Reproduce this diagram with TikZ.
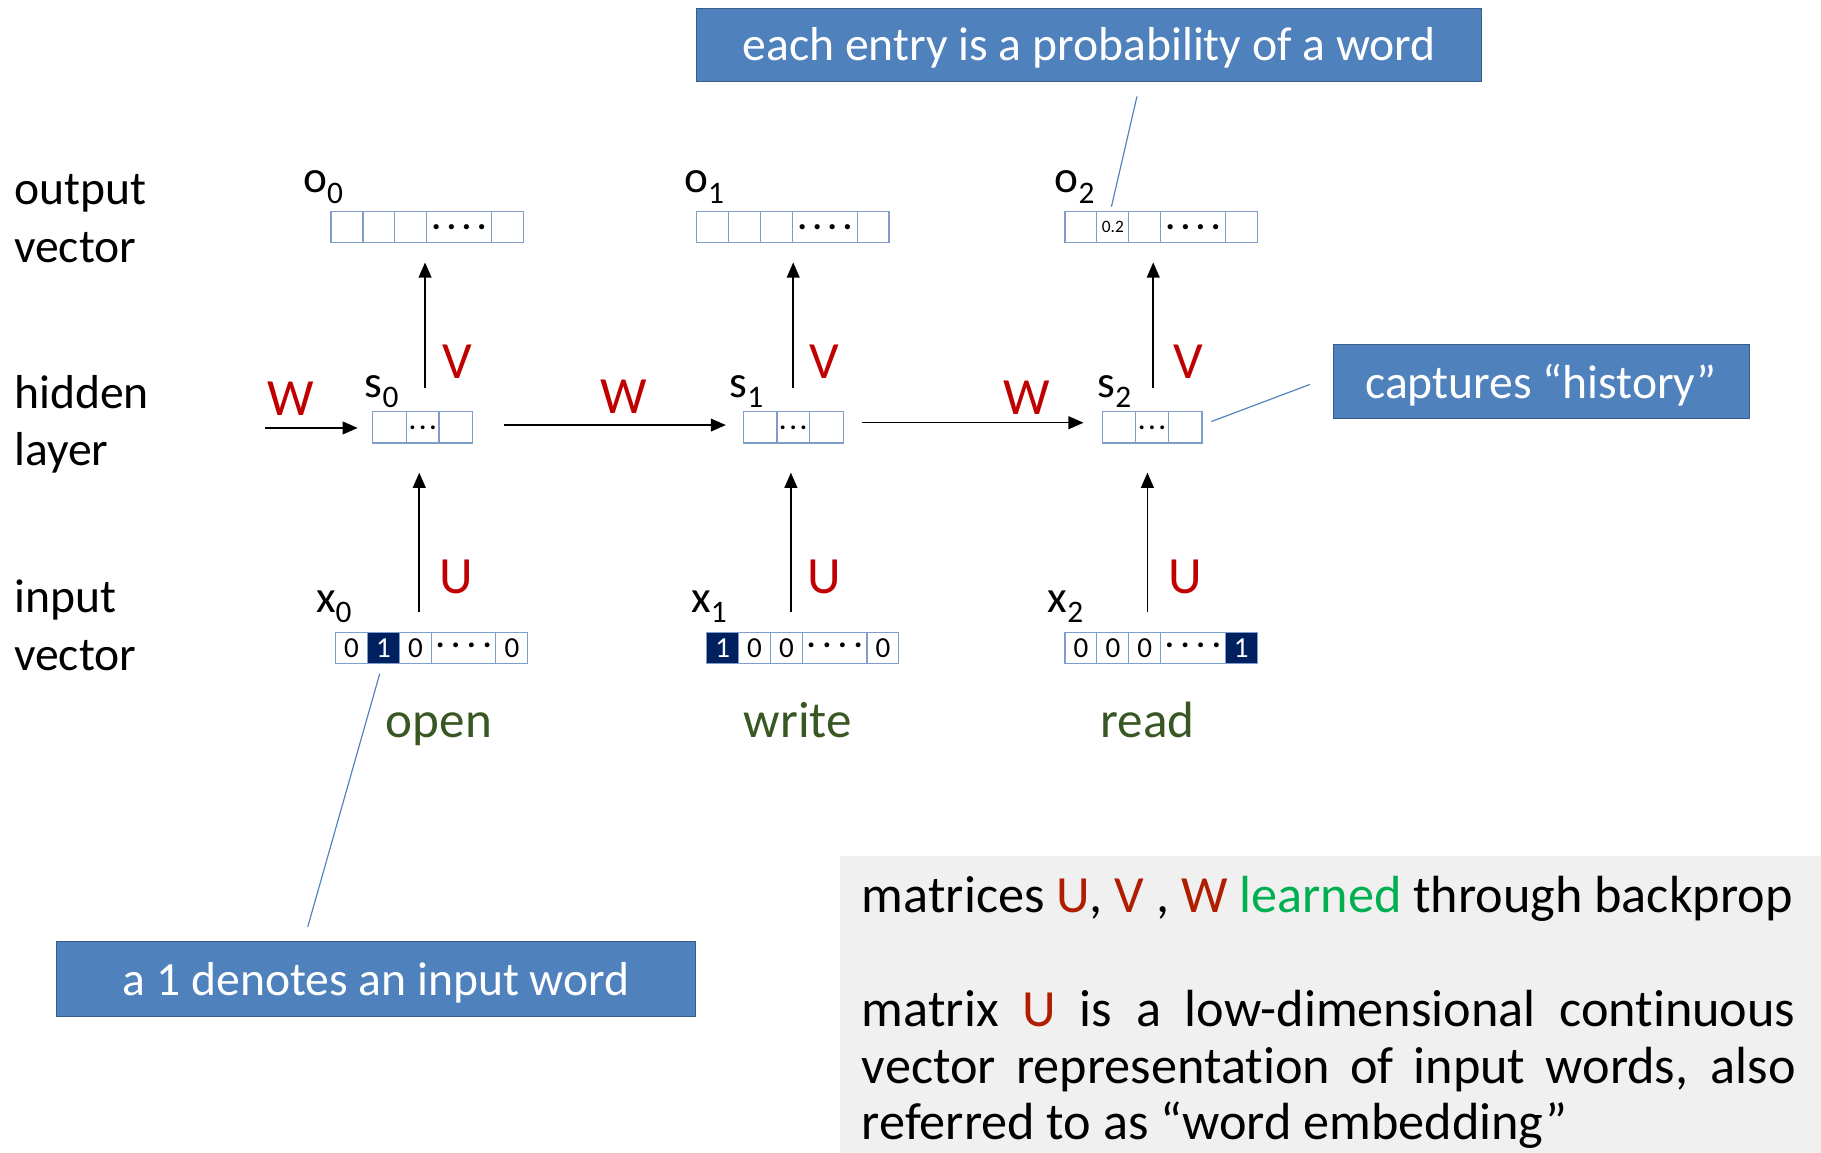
\documentclass[tikz,border=0pt]{standalone}
\usepackage{fontspec}
\setmainfont{Carlito}[Ligatures=NoCommon]
\usetikzlibrary{arrows.meta}
\definecolor{boxblue}{RGB}{79,129,189}
\definecolor{boxedge}{RGB}{56,93,138}
\definecolor{cellc}{RGB}{126,156,204}
\definecolor{navy}{RGB}{0,32,96}
\definecolor{wred}{RGB}{192,0,0}
\definecolor{tred}{RGB}{175,30,0}
\definecolor{wgreen}{RGB}{56,87,35}
\definecolor{lgreen}{RGB}{0,176,80}
\definecolor{graybg}{RGB}{240,240,240}
\newcommand\fs[1]{\fontsize{#1}{#1}\selectfont}
\newcommand\dotrow{{\fs{30}\bfseries\raisebox{-2pt}{.\hspace{5pt}.\hspace{5pt}.\hspace{5pt}.}}}
\newcommand\middots{{\fs{28}\bfseries\raisebox{5pt}{.\hspace{6pt}.\hspace{6pt}.\hspace{6pt}.}}}
\newcommand\hdots{{\fs{22}\bfseries .\hspace{3pt}.\hspace{3pt}.}}
\newcommand\lowidx[2]{#1\raisebox{-9pt}{\fs{27}#2}}
\begin{document}
\begin{tikzpicture}[x=1pt,y=-1pt,
  cell/.style={draw=cellc, line width=1pt, minimum height=27pt, inner sep=0pt, outer sep=0pt, anchor=west},
  narrow/.style={minimum width=27.5pt},
  wide/.style={minimum width=55.5pt},
  one/.style={fill=navy, text=white},
  digit/.style={font=\fs{25}},
  arr/.style={-{Triangle[length=13pt,width=11pt]}, line width=1.3pt},
  redl/.style={text=wred, font=\fs{45}, anchor=base, inner sep=0pt},
  word/.style={text=wgreen, font=\fs{44}, anchor=base, inner sep=0pt},
  side/.style={font=\fs{41}, anchor=base west, inner sep=0pt},
  vlab/.style={font=\fs{39}, anchor=base west, inner sep=0pt},
  callout/.style={fill=boxblue, draw=boxedge, line width=0.8pt, inner sep=0pt},
  callouttext/.style={text=white, font=\fs{41}, inner sep=0pt},
  lead/.style={draw=boxblue, line width=1pt},
  notetext/.style={font=\fs{45}, anchor=base west, inner sep=0pt},
]
\useasboundingbox (0,0) rectangle (1568,992);

% note box
\node[fill=graybg, inner sep=0pt, minimum width=900pt, minimum height=300pt, anchor=north west] (note) at (723,737) {};
\node[notetext] (n1) at (742,786) {matrices \textcolor{tred}{U}, \textcolor{tred}{V} , \textcolor{tred}{W} \textcolor{lgreen}{learned} through backprop};
\node[notetext] (n2) at (742,884) {\makebox[804pt][s]{matrix \textcolor{tred}{U} is a low-dimensional continuous}};
\node[notetext] (n3) at (742,932.6) {\makebox[804pt][s]{vector representation of input words, also}};
\node[notetext] (n4) at (742,981.6) {referred to as “word embedding”};

% side labels
\node[side] (l1) at (12,176) {output};
\node[side] (l2) at (12,226) {vector};
\node[side] (l3) at (12,352) {hidden};
\node[side] (l4) at (12,401) {layer};
\node[side] (l5) at (12,527) {input};
\node[side] (l6) at (12,577) {vector};

% output vectors
\foreach \n/\x in {o0/285, o1/600, o2/917} {
  \node[cell,narrow] (\n a) at (\x,195.5) {};
  \node[cell,narrow] (\n b) at (\n a.east) {};
  \node[cell,narrow] (\n c) at (\n b.east) {};
  \node[cell,wide] (\n d) at (\n c.east) {\dotrow};
  \node[cell,narrow] (\n e) at (\n d.east) {};
}
\node[font=\fs{15}, inner sep=0pt] (p02) at ([yshift=0pt]o2b.center) {0.2};

% hidden vectors
\foreach \n/\x in {s0/321, s1/640, s2/949} {
  \node[cell,minimum width=29pt] (\n a) at (\x,368) {};
  \node[cell,minimum width=28pt] (\n b) at (\n a.east) {\hdots};
  \node[cell,minimum width=29pt] (\n c) at (\n b.east) {};
}

% input vectors
\node[cell,narrow,digit] (x0a) at (289,558) {0};
\node[cell,narrow,digit,one] (x0b) at (x0a.east) {1};
\node[cell,narrow,digit] (x0c) at (x0b.east) {0};
\node[cell,wide] (x0d) at (x0c.east) {\middots};
\node[cell,narrow,digit] (x0e) at (x0d.east) {0};

\node[cell,narrow,digit,one] (x1a) at (608.5,558) {1};
\node[cell,narrow,digit] (x1b) at (x1a.east) {0};
\node[cell,narrow,digit] (x1c) at (x1b.east) {0};
\node[cell,wide] (x1d) at (x1c.east) {\middots};
\node[cell,narrow,digit] (x1e) at (x1d.east) {0};

\node[cell,narrow,digit] (x2a) at (917,558) {0};
\node[cell,narrow,digit] (x2b) at (x2a.east) {0};
\node[cell,narrow,digit] (x2c) at (x2b.east) {0};
\node[cell,wide] (x2d) at (x2c.east) {\middots};
\node[cell,narrow,digit,one] (x2e) at (x2d.east) {1};

% vector labels
\node[vlab] (lo0) at (261,166) {\lowidx{o}{0}};
\node[vlab] (lo1) at (589,166) {\lowidx{o}{1}};
\node[vlab] (lo2) at (908,166) {\lowidx{o}{2}};
\node[vlab] (ls0) at (314,342) {\lowidx{s}{0}};
\node[vlab] (ls1) at (628,342) {\lowidx{s}{1}};
\node[vlab] (ls2) at (945,342) {\lowidx{s}{2}};
\node[vlab] (lx0) at (272,527) {\lowidx{x}{0}};
\node[vlab] (lx1) at (595,527) {\lowidx{x}{1}};
\node[vlab] (lx2) at (902,527) {\lowidx{x}{2}};

% arrows
\foreach \i/\ux/\vx in {0/361/366, 1/681/683, 2/988/993} {
  \coordinate (ua\i) at (\ux,527);
  \coordinate (ub\i) at (\ux,407);
  \coordinate (va\i) at (\vx,334);
  \coordinate (vb\i) at (\vx,226);
  \draw[arr] (ua\i) -- (ub\i);
  \draw[arr] (va\i) -- (vb\i);
}
\coordinate (wa0) at (228,368.5);
\coordinate (wb0) at (308,368.5);
\coordinate (wa1) at (434,366);
\coordinate (wb1) at (625,366);
\coordinate (wa2) at (742,364);
\coordinate (wb2) at (933,364);
\draw[arr] (wa0) -- (wb0);
\draw[arr] (wa1) -- (wb1);
\draw[arr] (wa2) -- (wb2);

% weight labels
\node[redl] (U0) at (393,511) {U};
\node[redl] (U1) at (710,511) {U};
\node[redl] (U2) at (1021,511) {U};
\node[redl] (V0) at (394,326) {V};
\node[redl] (V1) at (710,326) {V};
\node[redl] (V2) at (1023,326) {V};
\node[redl] (W0) at (250,357.5) {W};
\node[redl] (W1) at (537,356) {W};
\node[redl] (W2) at (884,357) {W};

% words
\node[word] (w0) at (378,635) {open};
\node[word] (w1) at (687,635) {write};
\node[word] (w2) at (988,635) {read};

% callouts
\node[callout, minimum width=676pt, minimum height=63pt] (cTop) at (938,38.5) {};
\node[callouttext] (tTop) at ([yshift=-3pt]cTop.center) {each entry is a probability of a word};
\node[callout, minimum width=358pt, minimum height=63pt] (cHist) at (1327,328.5) {};
\node[callouttext] (tHist) at ([yshift=-3pt]cHist.center) {captures “history”};
\node[callout, minimum width=550pt, minimum height=64pt] (cIn) at (324,843) {};
\node[callouttext] (tIn) at ([yshift=-3pt]cIn.center) {a 1 denotes an input word};
\coordinate (t1) at (979,83);
\coordinate (t2) at (957,178);
\coordinate (h1) at (1128,331);
\coordinate (h2) at (1043,363);
\coordinate (i1) at (265,798);
\coordinate (i2) at (327,580);
\draw[lead] (t1) -- (t2);
\draw[lead] (h1) -- (h2);
\draw[lead] (i1) -- (i2);
\end{tikzpicture}
\end{document}
